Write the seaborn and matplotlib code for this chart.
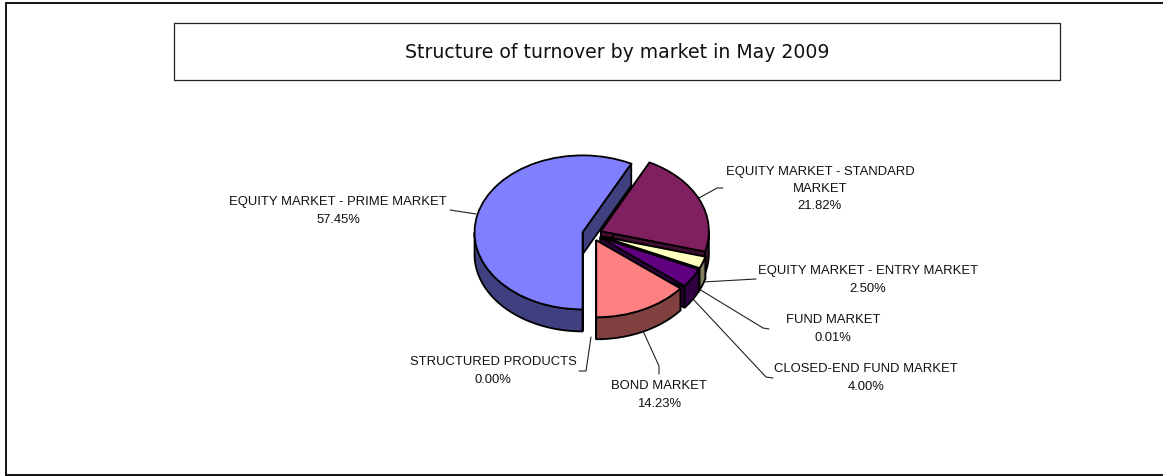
import numpy as np
import matplotlib
matplotlib.use("Agg")
import matplotlib.pyplot as plt
import seaborn as sns

sns.set_theme(style="white")
plt.rcParams['font.family'] = ['Liberation Sans', 'DejaVu Sans']

# Data, clockwise from 6 o'clock
markets = ['EQUITY MARKET - PRIME MARKET', 'EQUITY MARKET - STANDARD\nMARKET',
           'EQUITY MARKET - ENTRY MARKET', 'FUND MARKET',
           'CLOSED-END FUND MARKET', 'BOND MARKET', 'STRUCTURED PRODUCTS']
shares = [57.45, 21.82, 2.50, 0.01, 4.00, 14.23, 0.00]
top_colors = ['#8080FF', '#802060', '#FFFFC0', '#C0FFFF', '#600080', '#FF8080', '#0060C0']
draw_order = [0, 1, 2, 3, 4, 6, 5]

W, H = 1163, 477
RX, RY = 108.0, 77.0
CX, CY = 592.0, 235.0
DEPTH = 22.0 / RY

fig = plt.figure(figsize=(W / 100, H / 100), dpi=100)

# Overlay in pixel coordinates for frames, labels and leader lines
bg = fig.add_axes([0, 0, 1, 1])
bg.set_xlim(0, W)
bg.set_ylim(H, 0)
bg.axis('off')

# Pie axes: one data unit = RX px across and RY px down
ax = fig.add_axes([(CX - 1.25 * RX) / W, 1 - (CY + 1.6 * RY) / H, 2.5 * RX / W, 2.85 * RY / H])
ax.patch.set_alpha(0)
wedges, _ = ax.pie(shares, startangle=270, counterclock=False, radius=1.0,
                   explode=[0.09] * len(shares), colors=top_colors,
                   wedgeprops={'edgecolor': 'black', 'linewidth': 1.3})
ax.set_aspect('auto')
ax.set_xlim(-1.25, 1.25)
ax.set_ylim(-1.6, 1.25)


def darker(color):
    return tuple(c * 0.5 for c in matplotlib.colors.to_rgb(color))


def draw_side(w, color, z):
    cx, cy = w.center
    # the two cut faces
    for t in np.radians([w.theta1, w.theta2]):
        ex, ey = cx + np.cos(t) * w.r, cy + np.sin(t) * w.r
        ax.fill([cx, ex, ex, cx], [cy, ey, ey - DEPTH, cy - DEPTH], facecolor=color,
                edgecolor='black', linewidth=1.3, zorder=z, clip_on=False)
    # the outer wall, front half only
    for lo, hi in [(-180, 0), (180, 360)]:
        a, b = max(w.theta1, lo), min(w.theta2, hi)
        if b > a:
            ts = np.radians(np.linspace(a, b, 60))
            xs = cx + np.cos(ts) * w.r
            ys = cy + np.sin(ts) * w.r
            ax.fill(np.r_[xs, xs[::-1]], np.r_[ys, ys[::-1] - DEPTH], facecolor=color,
                    edgecolor='black', linewidth=1.3, zorder=z + 0.1, clip_on=False)


for rank, i in enumerate(draw_order):
    z = 2 + rank
    w = wedges[i]
    if shares[i] >= 0.05:
        draw_side(w, darker(top_colors[i]), z)
    else:
        w.set_linewidth(0)
    w.set_zorder(z + 0.2)
    w.set_clip_on(False)

# Frames
bg.plot([W, 5.5, 5.5, W], [3.5, 3.5, 476, 476], color='black', lw=1.3, solid_joinstyle='miter')
bg.plot([174, 174, 1060, 1060, 174], [23.5, 80.5, 80.5, 23.5, 23.5], color='#222222', lw=0.9)
bg.text(617.5, 53, 'Structure of turnover by market in May 2009', family='DejaVu Sans',
        fontsize=13.6, color='#111111', ha='center', va='center')

# Leader lines
leaders = [
    [(450, 211), (476, 215)],
    [(699, 199), (717, 189), (723, 189)],
    [(703, 283), (756, 280)],
    [(699, 290), (763, 329), (769, 330)],
    [(693, 300), (766, 378), (773, 379)],
    [(643, 332), (659, 367), (659, 375)],
    [(591, 338), (586, 372), (579, 372)],
]
for pts in leaders:
    xs, ys = zip(*pts)
    bg.plot(xs, ys, color='#222222', lw=0.8)

# Labels: name, then the share
label_xy = [(338, 211), (820, 189), (868, 280), (833, 329), (866, 378), (659, 395), (493, 371)]
for name, val, (x, y) in zip(markets, shares, label_xy):
    bg.text(x, y, f'{name}\n{val:.2f}%', ha='center', va='center', fontsize=9.35,
            color='#111111', linespacing=1.6)

fig.savefig('out.png', dpi=100)
